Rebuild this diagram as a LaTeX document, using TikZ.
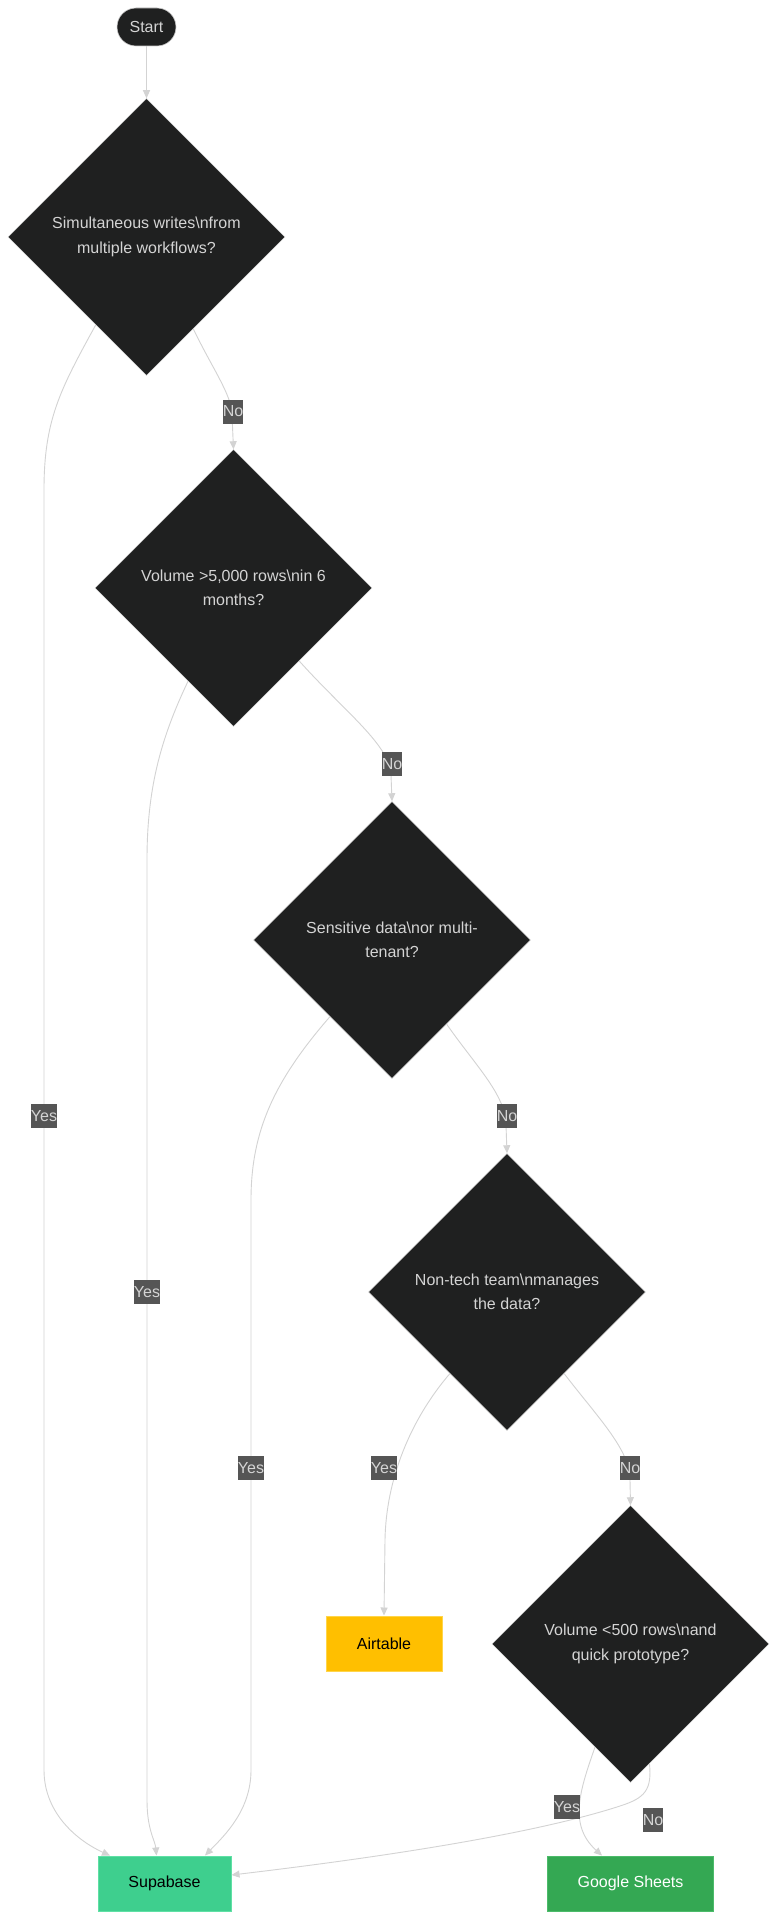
\documentclass[tikz,border=0pt]{standalone}
\usepackage{fontspec}
\setmainfont{Liberation Sans}
\usetikzlibrary{shapes.geometric,arrows.meta,calc}
\definecolor{nodebg}{HTML}{1F2020}
\definecolor{nodeln}{HTML}{CCCCCC}
\definecolor{edgec}{HTML}{D3D3D3}
\definecolor{lblbg}{HTML}{555555}
\definecolor{lbltx}{HTML}{D4D4D4}
\definecolor{supac}{HTML}{3ECF8E}
\definecolor{supab}{HTML}{5FE0A5}
\definecolor{airc}{HTML}{FFBF00}
\definecolor{airb}{HTML}{FFD54A}
\definecolor{gsc}{HTML}{34A853}
\definecolor{gsb}{HTML}{4CBB6A}
\tikzset{
  decision/.style={diamond, aspect=1, fill=nodebg, draw=nodeln!70, line width=0.5pt,
    minimum width=277pt, minimum height=277pt, inner sep=0pt, align=center,
    text=lbltx, font=\fontsize{16}{24.5}\selectfont},
  startbox/.style={rectangle, rounded corners=19pt, fill=nodebg, draw=nodeln, line width=0.6pt,
    minimum width=59pt, minimum height=38pt, inner sep=0pt, text=lbltx,
    font=\fontsize{16}{19}\selectfont},
  outbox/.style={rectangle, minimum height=55pt, inner sep=0pt, line width=1pt,
    font=\fontsize{16}{19}\selectfont},
  edge/.style={draw=edgec, line width=0.9pt, -{Triangle[length=8pt,width=7pt]}},
  lbl/.style={rectangle, fill=lblbg, text=lbltx, inner sep=0pt, minimum height=24pt,
    font=\fontsize{16}{19}\selectfont},
}
\begin{document}
\begin{tikzpicture}[x=1pt,y=-1pt]
\useasboundingbox (0,0) rectangle (778,1919);
\fill[white] (0,0) rectangle (778,1919);

% nodes
\node[startbox] (start) at (146.5,27) {Start};
\node[decision] (d1) at (146.5,237) {Simultaneous writes\textbackslash nfrom\\multiple workflows?};
\node[decision] (d2) at (233.5,588) {Volume >5,000 rows\textbackslash nin 6\\months?};
\node[decision] (d3) at (392,940) {Sensitive data\textbackslash nor multi-\\tenant?};
\node[decision] (d4) at (507,1292) {Non-tech team\textbackslash nmanages\\the data?};
\node[decision] (d5) at (630.5,1644) {Volume <500 rows\textbackslash nand\\quick prototype?};
\node[outbox, fill=airc, draw=airb, minimum width=116pt, text=black] (airt) at (384,1643.5) {Airtable};
\node[outbox, fill=supac, draw=supab, minimum width=133pt, text=black] (supa) at (164.5,1883.5) {Supabase};
\node[outbox, fill=gsc, draw=gsb, minimum width=166pt, text=white] (gs) at (630.5,1883.5) {Google Sheets};

% edges
\draw[edge] (start) -- (d1);
\draw[edge] (d1.240) .. controls (60,390) and (44,420) .. (44,490) -- (44,1770)
  .. controls (44,1815) and (80,1842) .. ([xshift=12.5pt]supa.north west);
\draw[edge] (d1.297) .. controls (212,368) and (232,395) .. (232,415) -- (d2.north);
\draw[edge] (d2.244) .. controls (160,740) and (147,790) .. (147,860) -- (147,1800)
  .. controls (147,1830) and (155,1840) .. ([xshift=59pt]supa.north west);
\draw[edge] (d2.312) .. controls (345,712) and (390,745) .. (391,775) -- (d3.north);
\draw[edge] (d3.231) .. controls (275,1080) and (251,1130) .. (251,1200) -- (251,1770)
  .. controls (251,1810) and (225,1835) .. ([xshift=107.5pt]supa.north west);
\draw[edge] (d3.303) .. controls (475,1065) and (506,1095) .. (506,1125) -- (d4.north);
\draw[edge] (d4.235) .. controls (410,1420) and (386,1480) .. (385,1540) -- (airt.north);
\draw[edge] (d4.305) .. controls (600,1420) and (630,1450) .. (630,1480) -- (d5.north);
\draw[edge] (d5.251) .. controls (580,1790) and (568,1825) .. ([xshift=55pt]gs.north west);
\draw[edge] (d5.279) .. controls (652,1790) and (645,1798) .. (620,1806)
  .. controls (540,1832) and (400,1855) .. ([yshift=8.5pt]supa.east);

% edge labels
\node[lbl] (l1) at (233,411.5) {No};
\node[lbl] (l2) at (44,1116) {Yes};
\node[lbl] (l3) at (392,764) {No};
\node[lbl] (l4) at (147,1292) {Yes};
\node[lbl] (l5) at (507,1116) {No};
\node[lbl] (l6) at (251,1468) {Yes};
\node[lbl] (l7) at (384,1468) {Yes};
\node[lbl] (l8) at (630,1468) {No};
\node[lbl] (l9) at (567,1807) {Yes};
\node[lbl] (l10) at (653,1820) {No};
\end{tikzpicture}
\end{document}
